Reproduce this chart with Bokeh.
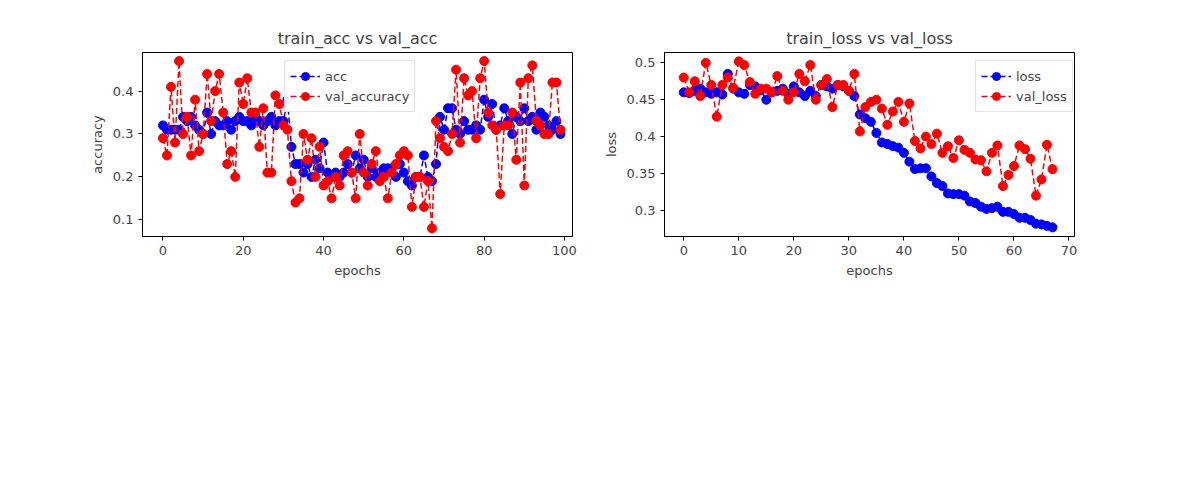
from bokeh.plotting import figure
from bokeh.layouts import row
from bokeh.models import Range1d
from bokeh.embed import file_html
from bokeh.resources import INLINE

acc = [.32, .31, .31, .31, .31, .34, .33, .34, .32, .31,
       .30, .35, .30, .33, .32, .32, .33, .31, .33, .34,
       .33, .33, .32, .34, .33, .32, .33, .34, .32, .33,
       .33, .38, .27, .23, .23, .21, .23, .20, .24, .22,
       .28, .21, .20, .21, .20, .21, .23, .21, .25, .22,
       .24, .20, .22, .20, .21, .22, .22, .22, .20, .23,
       .21, .19, .18, .20, .20, .25, .20, .19, .23, .34,
       .31, .36, .36, .31, .30, .33, .31, .31, .32, .31,
       .38, .34, .37, .31, .32, .36, .33, .30, .34, .33,
       .36, .33, .34, .31, .35, .34, .32, .31, .33, .30]
val_accuracy = [.29, .25, .41, .28, .47, .30, .34, .25, .38, .26,
                .30, .44, .33, .40, .44, .35, .23, .26, .20, .42,
                .37, .43, .35, .35, .27, .36, .21, .21, .39, .37,
                .32, .31, .19, .14, .15, .30, .24, .29, .20, .27,
                .18, .19, .15, .20, .18, .25, .26, .21, .15, .30,
                .21, .18, .23, .26, .19, .20, .15, .21, .23, .25,
                .26, .25, .13, .20, .20, .13, .19, .08, .33, .29,
                .27, .26, .30, .45, .28, .43, .39, .40, .29, .43,
                .47, .35, .32, .31, .16, .32, .32, .35, .24, .42,
                .18, .43, .46, .33, .32, .30, .30, .42, .42, .31]

loss = [.460, .459, .462, .465, .460, .458, .460, .457, .485, .465,
        .460, .458, .470, .468, .463, .450, .460, .462, .465, .458,
        .468, .460, .455, .462, .455, .470, .468, .465, .470, .468,
        .462, .455, .430, .425, .420, .405, .392, .390, .387, .385,
        .378, .366, .356, .357, .357, .346, .337, .333, .323, .322,
        .322, .320, .312, .310, .305, .302, .303, .305, .298, .298,
        .295, .290, .290, .287, .282, .281, .279, .277]
val_loss = [.480, .460, .475, .455, .500, .470, .427, .470, .480, .466,
            .502, .497, .474, .458, .465, .465, .460, .482, .462, .450,
            .460, .485, .475, .497, .450, .470, .478, .440, .470, .470,
            .462, .485, .407, .440, .447, .450, .438, .416, .434, .447,
            .420, .445, .394, .384, .400, .390, .404, .378, .387, .371,
            .395, .382, .378, .369, .368, .353, .378, .388, .333, .348,
            .360, .388, .383, .370, .320, .342, .389, .356]

FONT = "DejaVu Sans"


def make_plot(title, ylabel, a, b, la, lb, xr, yr, width, bl, br, leg_x):
    p = figure(width=width, height=492, title=title, output_backend="svg",
               toolbar_location=None, x_range=Range1d(*xr), y_range=Range1d(*yr),
               min_border_left=bl, min_border_right=br,
               min_border_top=52, min_border_bottom=256)
    p.title.align = "center"
    p.title.text_font = FONT
    p.title.text_font_size = "16px"
    p.title.text_font_style = "normal"
    p.xgrid.visible = False
    p.ygrid.visible = False
    p.outline_line_color = "black"
    p.xaxis.axis_label = "epochs"
    p.yaxis.axis_label = ylabel
    for ax in (p.xaxis[0], p.yaxis[0]):
        ax.axis_label_text_font = FONT
        ax.axis_label_text_font_size = "13px"
        ax.axis_label_text_font_style = "normal"
        ax.major_label_text_font = FONT
        ax.major_label_text_font_size = "13px"
        ax.minor_tick_line_color = None
        ax.major_tick_out = 4
        ax.major_tick_in = 0
    x1 = list(range(len(a)))
    p.line(x1, a, color="blue", line_dash="6 3", line_width=1.5, legend_label=la)
    p.scatter(x1, a, color="blue", size=9, legend_label=la)
    p.line(x1, b, color="red", line_dash="6 3", line_width=1.5, legend_label=lb)
    p.scatter(x1, b, color="red", size=9, legend_label=lb)
    p.legend.location = (leg_x, 124)
    p.legend.label_text_font = FONT
    p.legend.label_text_font_size = "13px"
    p.legend.spacing = 0
    p.legend.padding = 5
    p.legend.border_line_color = "#cccccc"
    p.legend.glyph_width = 30
    return p


p1 = make_plot("train_acc vs val_acc", "accuracy", acc, val_accuracy, "acc", "val_accuracy",
               (-5.1, 102), (0.061, 0.49), 600, 142, 28, 142)
p1.yaxis.ticker = [0.1, 0.2, 0.3, 0.4]
p2 = make_plot("train_loss vs val_loss", "loss", loss, val_loss, "loss", "val_loss",
               (-3.5, 71), (0.2646, 0.514), 584, 49, 110, 311)
p2.yaxis.ticker = [0.30, 0.35, 0.40, 0.45, 0.50]

p = row(p1, p2)
open("out.html", "w").write(file_html(p, INLINE))
